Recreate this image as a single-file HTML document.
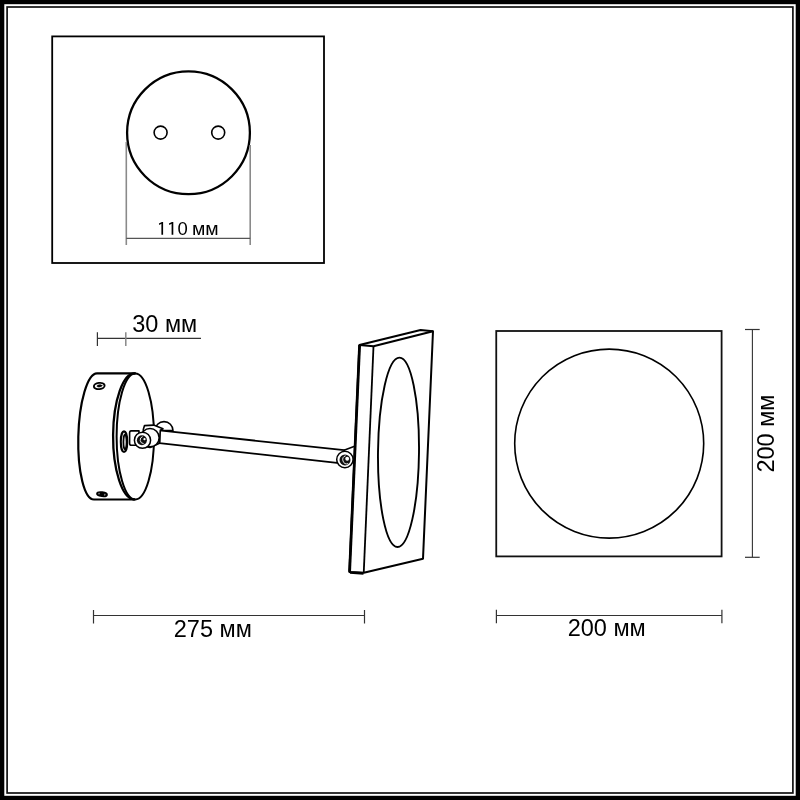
<!DOCTYPE html>
<html><head><meta charset="utf-8">
<style>
html,body{margin:0;padding:0;background:#fff;width:800px;height:800px;overflow:hidden}
svg{display:block;will-change:transform}
text{font-family:"Liberation Sans",sans-serif;fill:#000}
</style></head>
<body>
<svg width="800" height="800" viewBox="0 0 800 800">
<!-- frame -->
<rect x="0" y="0" width="800" height="800" fill="#000"/>
<rect x="4.3" y="4.2" width="791.4" height="791.6" fill="#fff"/>
<rect x="7.1" y="7" width="785.8" height="786" fill="none" stroke="#111" stroke-width="1.7"/>

<!-- top box -->
<rect x="52.2" y="36.4" width="271.8" height="226.6" fill="none" stroke="#000" stroke-width="1.8"/>
<circle cx="188.5" cy="132.8" r="61.4" fill="none" stroke="#000" stroke-width="2.3"/>
<circle cx="160.6" cy="132.6" r="6.5" fill="none" stroke="#000" stroke-width="1.6"/>
<circle cx="218.2" cy="132.6" r="6.5" fill="none" stroke="#000" stroke-width="1.6"/>
<line x1="126.3" y1="142" x2="126.3" y2="245" stroke="#8a8a8a" stroke-width="1.6"/>
<line x1="250.2" y1="145" x2="250.2" y2="245" stroke="#8a8a8a" stroke-width="1.6"/>
<line x1="126.3" y1="238.4" x2="250.2" y2="238.4" stroke="#555" stroke-width="1.2"/>
<path d="M158.9,223.6 L161.9,221.95 L163.1,221.95 L163.1,234.75 L161.4,234.75 L161.4,223.8 L159.3,225 Z M168.9,223.6 L171.9,221.95 L173.3,221.95 L173.3,234.75 L171.6,234.75 L171.6,223.8 L169.3,225 Z" fill="#000"/>
<text x="177.5" y="234.7" font-size="18.5">0</text>
<text x="192" y="234.7" font-size="18.5" transform="translate(192 0) scale(1.05 1) translate(-192 0)">мм</text>

<!-- 30 mm dimension -->
<line x1="97.4" y1="338.4" x2="201" y2="338.4" stroke="#333" stroke-width="1.1"/>
<line x1="97.4" y1="332.2" x2="97.4" y2="346" stroke="#333" stroke-width="1.2"/>
<line x1="125.8" y1="332.2" x2="125.8" y2="346" stroke="#888" stroke-width="1.5"/>
<text x="132.3" y="332.1" font-size="23.5">30 мм</text>

<!-- wall base cylinder -->
<g fill="none" stroke="#000" stroke-linecap="round" stroke-linejoin="round">
  <path d="M134.5,373.4 L97,373.4 A17.2,63.07 1.54 0 0 94,499.5 L134.5,499.5" stroke-width="2.2"/>
  <ellipse cx="135.3" cy="436.5" rx="18.7" ry="63" stroke-width="2"/>
  <path d="M135,373.4 A21.4,63.05 0 0 0 134,499.5" stroke-width="2.3"/>
  <g transform="rotate(-8 99.25 386)">
  <ellipse cx="99.25" cy="386" rx="5.4" ry="3.1" stroke-width="1.9"/>
  <ellipse cx="99.5" cy="385.9" rx="2.5" ry="1.1" fill="#000" stroke-width="0.6"/>
  </g>
  <g transform="rotate(7 102 494.2)">
  <ellipse cx="102" cy="494.2" rx="5" ry="2" fill="#000" stroke-width="1.8"/>
  <circle cx="99" cy="494" r="0.9" fill="#777" stroke="none"/>
  <circle cx="104.8" cy="494.4" r="0.9" fill="#777" stroke="none"/>
  </g>
  <!-- washer on front face -->
  <ellipse cx="124" cy="441.7" rx="3.2" ry="10.3" fill="#fff" stroke-width="2.1"/>
  <ellipse cx="125" cy="442" rx="1.6" ry="7.4" fill="#fff" stroke-width="1.8"/>
</g>
<!-- arm -->
<g stroke="#000" stroke-linejoin="round" stroke-width="1.6" fill="#fff">
  <path d="M155,430.6 A9,9 0 0 1 173,430.6 Z"/>
  <path d="M159.5,430.4 L344.2,450.2 L337,462.9 L159.5,443.2 Z" stroke-width="1.8"/>
  <path d="M143.3,429.5 L144.5,425.6 L153.6,425.1 L163,428.7 L160.3,430.3 L159.5,443.2 L150,447.5 L143.3,446 Z"/>
  <circle cx="150" cy="437.7" r="9.2"/>
  <path d="M139,430.9 L131.2,430.9 Q129.6,431 129.6,433 L129.6,443.5 Q129.6,445.25 131.5,445.25 L139,445.25 Z"/>
  <circle cx="142.5" cy="440.25" r="8.1" stroke-width="1.5"/>
  <circle cx="141.9" cy="440.25" r="5" fill="#111" stroke="none"/>
  <path d="M142.6,436.6 A3.6,3.6 0 0 0 143.6,443.6" fill="none" stroke="#fff" stroke-width="0.9"/>
  <circle cx="144.5" cy="439.2" r="1.1" fill="#fff" stroke="none"/>
</g>
<!-- mirror -->
<g fill="none" stroke="#000" stroke-linejoin="round">
  <path d="M359.4,345 L420.6,330 L433,331.3 L423,558.75 L363.75,572.75 L349.4,571.9 Z" fill="#fff" stroke-width="2"/>
  <path d="M359.6,345 L349.6,571.9" stroke-width="2.8"/>
  <path d="M350,572.5 L363.5,573.4" stroke-width="2.6"/>
  <path d="M359.4,345 L373.5,346.2 L433,331.3" stroke-width="2"/>
  <path d="M373.5,346.2 L363.75,572.75" stroke-width="1.8"/>
  <ellipse cx="398.5" cy="452.3" rx="20.5" ry="94.7" transform="rotate(0.6 398.5 452.3)" stroke-width="1.9"/>
  <path d="M344,450.3 L354.6,446.2" stroke-width="1.5"/>
  <circle cx="344.9" cy="459.5" r="8.2" fill="#fff" stroke-width="1.5"/>
  <circle cx="345" cy="459.9" r="5.5" fill="#111" stroke="none"/>
  <path d="M345.6,455.8 A4,4 0 0 0 348.2,463.6" stroke="#fff" stroke-width="0.9"/>
  <circle cx="347.2" cy="458.75" r="1.9" fill="#fff" stroke="none"/>
</g>

<!-- square front view -->
<rect x="496.25" y="331" width="225.35" height="225.4" fill="none" stroke="#111" stroke-width="1.8"/>
<circle cx="609.2" cy="443.6" r="94.5" fill="none" stroke="#000" stroke-width="1.6"/>

<!-- vertical 200 dimension -->
<line x1="752.4" y1="329.5" x2="752.4" y2="557.3" stroke="#333" stroke-width="1.1"/>
<line x1="745" y1="329.5" x2="759.7" y2="329.5" stroke="#333" stroke-width="1.2"/>
<line x1="745" y1="557.3" x2="759.7" y2="557.3" stroke="#333" stroke-width="1.2"/>
<text transform="translate(773.75,472.6) rotate(-90)" font-size="23.5">200 мм</text>

<!-- bottom dimensions -->
<line x1="93.5" y1="615.5" x2="364.5" y2="615.5" stroke="#333" stroke-width="1.1"/>
<line x1="93.5" y1="610" x2="93.5" y2="623.5" stroke="#333" stroke-width="1.2"/>
<line x1="364.5" y1="610" x2="364.5" y2="623.5" stroke="#333" stroke-width="1.2"/>
<text x="173.8" y="636.9" font-size="23.5">275 мм</text>

<line x1="496.4" y1="615.5" x2="721.9" y2="615.5" stroke="#333" stroke-width="1.1"/>
<line x1="496.4" y1="609.8" x2="496.4" y2="623.2" stroke="#333" stroke-width="1.2"/>
<line x1="721.9" y1="609.8" x2="721.9" y2="623.2" stroke="#333" stroke-width="1.2"/>
<text x="567.7" y="636.4" font-size="23.5">200 мм</text>
</svg>
</body></html>
